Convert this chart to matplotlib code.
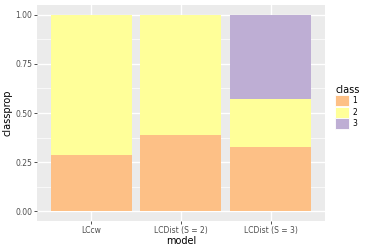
import matplotlib.pyplot as plt
import numpy as np

models = ["LCcw", "LCDist (S = 2)", "LCDist (S = 3)"]
classes = ["1", "2", "3"]
class1 = [0.285, 0.389, 0.325]
class2 = [0.715, 0.611, 0.247]
class3 = [0.0, 0.0, 0.428]
colors = ["#FDC086", "#FFFF99", "#BEAED4"]

fig = plt.figure(figsize=(3.74, 2.49), dpi=100)
ax = fig.add_axes([37 / 374, 28 / 249, 288 / 374, 216 / 249])
ax.set_facecolor("#EBEBEB")
for s in ax.spines.values():
    s.set_visible(False)

x = np.arange(1, len(models) + 1)
bottom = np.zeros(len(models))
for vals, col, lab in zip([class1, class2, class3], colors, classes):
    ax.bar(x, vals, width=0.9, bottom=bottom, color=col, label=lab, zorder=3)
    bottom += np.array(vals)

ax.set_xlim(0.4, 3.6)
ax.set_ylim(-0.05, 1.05)
ax.set_xticks(x)
ax.set_xticklabels(models)
ax.set_yticks([0, 0.25, 0.5, 0.75, 1.0])
ax.set_yticklabels(["0.00", "0.25", "0.50", "0.75", "1.00"])
ax.set_yticks([0.125, 0.375, 0.625, 0.875], minor=True)
ax.grid(which="major", color="white", linewidth=1.0, zorder=0)
ax.grid(which="minor", axis="y", color="white", linewidth=0.5, zorder=0)
ax.tick_params(which="major", length=2, width=0.6, color="#333333",
               labelsize=5.5, labelcolor="#4D4D4D", pad=1.5)
ax.tick_params(which="minor", length=0)
ax.set_xlabel("model", fontsize=7, labelpad=1)
ax.set_ylabel("classprop", fontsize=7, labelpad=2)

leg = ax.legend(title="class", loc="upper left", bbox_to_anchor=(1.035, 0.63),
                frameon=False, fontsize=5.5, title_fontsize=7,
                handlelength=1.85, handleheight=1.85, handletextpad=0.4,
                labelspacing=0.05, borderaxespad=0, borderpad=0)
leg._legend_box.align = "left"
for h in leg.legend_handles:
    h.set_edgecolor("white")
    h.set_linewidth(0.6)

fig.savefig("out.png", dpi=100)
